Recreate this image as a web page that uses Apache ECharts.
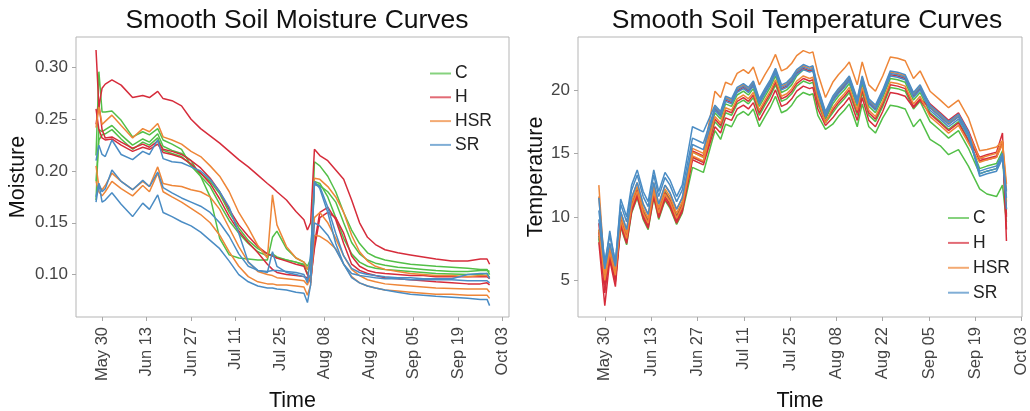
<!DOCTYPE html>
<html><head><meta charset="utf-8">
<script src="https://cdn.jsdelivr.net/npm/echarts@6/dist/echarts.min.js"></script>
<style>html,body{margin:0;padding:0;background:#fff}#c{width:1030px;height:411px}</style>
</head><body><div id="c"></div>
<script>
// ---- axis ticks (days counted from May 30) ----
const tickDays = [0,14,28,42,56,70,84,98,112,126];
const tickLabels = ['May 30','Jun 13','Jun 27','Jul 11','Jul 25','Aug 08','Aug 22','Sep 05','Sep 19','Oct 03'];
const moistureTicks = [0.10,0.15,0.20,0.25,0.30];
const tempTicks = [5,10,15,20];
const treatments = ['C','H','HSR','SR'];

// ---- soil moisture (days since May 30) ----
const mDays = [-1.9,-1.0,0,1,3.1,6,9.6,12.8,14.9,17.5,19.2,22, 25,28,31,34,37,40,43,46,49,52,53.6,55, 58,61,63.5,64.6,65.6,66.8,68.5,71,73.5,76,78.5,81, 83.5,86,89,93,97,101,105,110,115,119,121.1,121.9];
const mC1 = [0.215,0.296,0.257,0.257,0.258,0.249,0.233,0.238,0.235,0.241,0.230,0.226, 0.221,0.205,0.195,0.185,0.168,0.152,0.140,0.130,0.122,0.118,0.120,0.117, 0.114,0.112,0.110,0.105,0.110,0.209,0.205,0.195,0.180,0.160,0.143,0.130, 0.121,0.117,0.114,0.112,0.110,0.109,0.108,0.107,0.106,0.105,0.105,0.100];
const mC2 = [0.172,0.240,0.238,0.240,0.244,0.235,0.225,0.231,0.228,0.236,0.224,0.220, 0.217,0.210,0.195,0.175,0.135,0.119,0.116,0.115,0.114,0.114,0.136,0.142, 0.125,0.116,0.112,0.108,0.115,0.190,0.188,0.175,0.155,0.135,0.120,0.112, 0.108,0.106,0.105,0.104,0.103,0.102,0.101,0.1005,0.100,0.100,0.101,0.097];
const mC3 = [0.190,0.230,0.235,0.236,0.240,0.231,0.221,0.228,0.225,0.232,0.220,0.217, 0.214,0.206,0.198,0.190,0.178,0.160,0.145,0.133,0.125,0.120,0.118,0.116, 0.114,0.112,0.109,0.100,0.110,0.188,0.186,0.180,0.170,0.150,0.131,0.120, 0.114,0.111,0.109,0.107,0.106,0.105,0.104,0.103,0.103,0.104,0.104,0.103];
const mH1 = [0.317,0.262,0.280,0.284,0.288,0.283,0.271,0.273,0.271,0.277,0.270,0.268, 0.263,0.250,0.241,0.234,0.227,0.219,0.211,0.204,0.196,0.188,0.184,0.180, 0.172,0.161,0.153,0.143,0.150,0.221,0.215,0.210,0.201,0.192,0.172,0.150, 0.136,0.129,0.124,0.121,0.119,0.117,0.115,0.113,0.113,0.115,0.115,0.110];
const mH2 = [0.245,0.265,0.240,0.232,0.233,0.228,0.222,0.226,0.223,0.229,0.221,0.219, 0.216,0.210,0.203,0.193,0.180,0.163,0.148,0.137,0.127,0.120,0.118,0.116, 0.113,0.110,0.108,0.100,0.092,0.130,0.160,0.165,0.153,0.130,0.110,0.104, 0.101,0.099,0.097,0.096,0.095,0.094,0.093,0.092,0.091,0.091,0.092,0.090];
const mH3 = [0.260,0.240,0.232,0.230,0.231,0.225,0.219,0.223,0.221,0.226,0.218,0.216, 0.213,0.207,0.198,0.188,0.173,0.156,0.142,0.131,0.121,0.110,0.105,0.102, 0.100,0.099,0.098,0.097,0.095,0.125,0.155,0.160,0.155,0.140,0.118,0.108, 0.104,0.102,0.101,0.100,0.099,0.099,0.098,0.098,0.098,0.098,0.098,0.096];
const mHSR1 = [0.242,0.262,0.245,0.248,0.254,0.244,0.232,0.241,0.238,0.246,0.233,0.230, 0.226,0.219,0.214,0.205,0.195,0.180,0.160,0.145,0.128,0.116,0.177,0.148, 0.127,0.116,0.112,0.105,0.112,0.193,0.192,0.185,0.175,0.160,0.138,0.122, 0.113,0.108,0.105,0.103,0.101,0.100,0.099,0.099,0.098,0.099,0.099,0.097];
const mHSR2 = [0.205,0.185,0.182,0.186,0.198,0.190,0.182,0.190,0.185,0.204,0.188,0.186, 0.185,0.182,0.180,0.175,0.163,0.145,0.127,0.112,0.103,0.100,0.099,0.097, 0.096,0.095,0.094,0.090,0.100,0.155,0.160,0.150,0.135,0.118,0.105,0.099, 0.095,0.093,0.091,0.090,0.089,0.088,0.087,0.0865,0.086,0.086,0.086,0.083];
const mHSR3 = [0.190,0.180,0.176,0.180,0.190,0.183,0.176,0.186,0.180,0.198,0.180,0.175, 0.170,0.164,0.158,0.150,0.138,0.122,0.108,0.098,0.093,0.091,0.091,0.090, 0.090,0.089,0.088,0.080,0.090,0.138,0.137,0.132,0.125,0.110,0.098,0.092, 0.089,0.087,0.085,0.084,0.083,0.082,0.081,0.081,0.080,0.080,0.080,0.077];
const mSR1 = [0.210,0.225,0.216,0.214,0.230,0.216,0.211,0.219,0.216,0.230,0.212,0.209, 0.208,0.204,0.200,0.192,0.180,0.165,0.140,0.112,0.104,0.103,0.104,0.104, 0.103,0.102,0.100,0.092,0.120,0.187,0.185,0.165,0.140,0.118,0.106,0.102, 0.100,0.099,0.098,0.097,0.097,0.096,0.096,0.096,0.100,0.101,0.101,0.096];
const mSR2 = [0.170,0.188,0.180,0.183,0.201,0.190,0.182,0.191,0.185,0.199,0.184,0.179, 0.174,0.170,0.166,0.160,0.150,0.137,0.120,0.108,0.104,0.102,0.122,0.108, 0.102,0.100,0.098,0.095,0.100,0.190,0.183,0.160,0.130,0.110,0.101,0.099, 0.098,0.097,0.096,0.096,0.095,0.095,0.095,0.095,0.094,0.094,0.094,0.092];
const mSR3 = [0.175,0.188,0.170,0.172,0.179,0.168,0.156,0.169,0.163,0.177,0.160,0.156, 0.151,0.147,0.141,0.133,0.125,0.113,0.100,0.093,0.089,0.087,0.087,0.086, 0.085,0.083,0.082,0.073,0.090,0.150,0.147,0.138,0.124,0.110,0.097,0.092, 0.089,0.087,0.085,0.083,0.081,0.080,0.079,0.078,0.077,0.076,0.076,0.070];

// ---- soil temperature (days since May 30) ----
const tDays = [-1.8,0,1.5,3.2,4.8,6.6,8.1,9.8,11.6,13.1,14.8,16.3,18.2,19.7,21.7,23.4, 26.5,29.8, 33.3,35,36.5,38.3,40,41.9,43.4,44.9,46.7,48.4,50,51.6,53.4,55,56.5,58,60,61.9,62.9,64.4,66.7,68.9,70.6,72.4,73.9,76.3,77.8,79.8,81.8,84,86.3,88.5,90.8,93.3,95.3,98.3,101.4,103.9,106.9,109.9, 113.3,115.5,118.4,120.2, 121.4];
const tC1 = [8.3,4.6,6.7,5.0,9.2,7.8,10.3,11.5,9.8,9.0,11.5,9.8,11.3,10.7,9.4,10.3, 13.9,13.5, 16.8,16.1,17.3,17.1,18.0,18.3,18.0,18.5,17.1,17.9,18.6,19.5,18.2,18.4,18.8,19.4,19.8,19.6,19.7,18.0,16.9,17.3,17.9,18.4,18.9,17.1,18.9,17.1,16.6,17.8,18.8,18.7,18.5,17.1,17.7,16.1,15.6,14.9,15.3,14.0, 12.2,11.8,11.6,12.5, 9.6];
const tC2 = [8.5,4.8,7.0,5.2,9.5,8.1,10.6,11.8,10.1,9.3,11.8,10.1,11.6,11.0,9.7,10.6, 14.7,14.3, 17.5,17.0,18.2,18.0,18.9,19.2,18.9,19.4,18.0,18.8,19.5,20.4,19.1,19.3,19.7,20.3,20.7,20.5,20.6,18.9,17.4,18.2,18.8,19.3,19.8,18.0,19.8,18.0,17.5,18.7,20.2,20.1,19.9,18.5,19.1,17.5,16.8,16.2,16.8,15.4, 13.4,13.6,13.8,14.8, 10.2];
const tC3 = [9.0,5.3,7.4,5.6,9.9,8.5,11.0,12.2,10.5,9.7,12.2,10.5,12.0,11.4,10.1,11.0, 15.1,14.7, 18.2,17.7,18.9,18.7,19.6,19.9,19.6,20.1,18.7,19.5,20.2,21.1,19.8,20.0,20.4,21.1,21.6,21.5,21.6,19.6,17.7,18.9,19.5,20.0,20.5,18.7,20.5,18.7,18.2,19.4,20.9,20.8,20.6,19.2,19.8,18.2,17.5,16.9,17.5,16.1, 13.8,14.0,14.2,15.2, 10.6];
const tH1 = [8.0,3.0,6.6,4.5,9.3,7.9,10.4,11.6,9.9,9.1,11.6,9.9,11.4,10.8,9.5,10.4, 14.5,14.1, 17.1,16.6,17.8,17.6,18.5,18.8,18.5,19.0,17.6,18.4,19.1,20.0,18.7,18.9,19.3,19.9,20.3,20.1,20.2,18.5,17.2,17.8,18.4,18.9,19.4,17.6,19.4,17.6,17.1,18.3,19.8,19.7,19.5,18.6,19.2,18.1,17.4,16.8,17.4,16.0, 14.7,14.9,15.1,16.6, 8.1];
const tH2 = [8.8,4.0,7.0,4.9,9.5,8.1,10.6,11.8,10.1,9.3,11.8,10.1,11.6,11.0,9.7,10.6, 14.7,14.3, 17.7,17.2,18.4,18.2,19.1,19.4,19.1,19.6,18.2,19.0,19.7,20.6,19.3,19.5,19.9,20.5,20.9,20.7,20.8,19.1,17.5,18.4,19.0,19.5,20.0,18.2,20.0,18.2,17.7,18.9,20.4,20.3,20.1,18.7,19.3,18.6,17.9,17.3,17.9,16.5, 14.4,14.6,14.8,15.9, 9.0];
const tH3 = [9.5,4.6,7.3,5.3,9.8,8.4,10.9,12.1,10.4,9.6,12.1,10.4,11.9,11.3,10.0,10.9, 15.2,14.8, 18.5,18.0,19.2,19.0,19.9,20.2,19.9,20.4,19.0,19.8,20.5,21.4,20.1,20.3,20.7,21.3,21.7,21.5,21.6,19.9,17.9,19.2,19.8,20.3,20.8,19.0,20.8,19.0,18.5,19.7,21.2,21.1,20.9,19.5,20.1,18.9,18.2,17.6,18.2,16.8, 14.6,14.5,14.7,15.9, 10.0];
const tHSR1 = [12.5,5.5,7.9,5.9,10.4,9.0,11.5,12.7,11.0,10.2,12.7,11.0,12.5,11.9,10.6,11.5, 15.4,15.0, 19.9,19.4,20.6,20.4,21.3,21.6,21.3,21.8,20.4,21.2,21.9,22.8,21.5,21.7,22.1,22.7,23.1,22.9,23.0,21.3,19.4,20.6,21.2,21.7,22.2,20.4,22.2,20.4,19.9,21.1,22.6,22.5,22.3,20.9,21.5,19.9,19.2,18.6,19.2,17.8, 15.2,15.3,15.5,16.0, 12.6];
const tHSR2 = [11.6,5.5,7.6,5.8,10.1,8.7,11.2,12.4,10.7,9.9,12.4,10.7,12.2,11.6,10.3,11.2, 15.1,14.7, 18.7,18.2,19.4,19.2,20.1,20.4,20.1,20.6,19.2,20.0,20.7,21.6,20.3,20.5,20.9,21.5,21.9,21.7,21.8,20.1,18.2,19.4,20.0,20.5,21.0,19.2,21.0,19.2,18.7,19.9,21.4,21.3,21.1,19.7,20.3,18.7,18.0,17.4,18.0,16.6, 14.6,14.8,15.0,16.0, 12.1];
const tHSR3 = [9.0,5.0,7.2,5.4,9.7,8.3,10.8,12.0,10.3,9.5,12.0,10.3,11.8,11.2,9.9,10.8, 14.8,14.4, 17.9,17.4,18.6,18.4,19.3,19.6,19.3,19.8,18.4,19.2,19.9,20.8,19.5,19.7,20.1,20.7,21.1,20.9,21.0,19.3,17.4,18.6,19.2,19.7,20.2,18.4,20.2,18.4,17.9,19.1,20.6,20.5,20.3,18.9,19.5,17.9,17.2,16.6,17.2,15.8, 14.3,14.5,14.7,15.7, 11.2];
const tSR1 = [11.5,6.1,8.9,6.3,11.4,10.0,12.5,13.7,12.0,11.2,13.7,12.0,13.5,12.9,11.6,12.5, 17.1,16.7, 18.8,18.3,19.5,19.3,20.2,20.5,20.2,20.7,19.3,20.1,20.8,21.7,20.4,20.6,21.0,21.6,22.0,21.8,21.9,20.2,18.3,19.5,20.1,20.6,21.1,19.3,21.1,19.3,18.8,20.0,21.5,21.4,21.2,19.8,20.4,18.8,18.1,17.5,18.1,16.7, 13.4,13.6,13.8,14.8, 11.5];
const tSR2 = [10.5,6.5,8.5,6.5,11.0,9.6,12.1,13.3,11.6,10.8,13.3,11.6,13.1,12.5,11.2,12.1, 16.2,15.8, 18.6,18.1,19.3,19.1,20.0,20.3,20.0,20.5,19.1,19.9,20.6,21.5,20.2,20.4,20.8,21.4,21.8,21.6,21.7,20.0,18.1,19.3,19.9,20.4,20.9,19.1,20.9,19.1,18.6,19.8,21.3,21.2,21.0,19.6,20.2,18.6,17.9,17.3,17.9,16.5, 13.2,13.4,13.6,14.6, 12.0];
const tSR3 = [9.8,5.9,7.9,6.1,10.4,9.0,11.5,12.7,11.0,10.2,12.7,11.0,12.5,11.9,10.6,11.5, 15.7,15.3, 18.4,17.9,19.1,18.9,19.8,20.1,19.8,20.3,18.9,19.7,20.4,21.3,20.0,20.2,20.6,21.2,21.6,21.4,21.5,19.8,17.9,19.1,19.7,20.2,20.7,18.9,20.7,18.9,18.4,19.6,21.1,21.0,20.8,19.4,20.0,18.4,17.7,17.1,17.7,16.3, 13.6,13.8,14.0,15.0, 10.6];

const colors = {C:'#52bf47', H:'#d62c3b', HSR:'#ee8638', SR:'#4a8cc4'};
const FONT = "'Liberation Sans', Arial, Helvetica, sans-serif";

const moistureLines = [['C',mC1],['C',mC2],['C',mC3],['H',mH1],['H',mH2],['H',mH3],['HSR',mHSR1],['HSR',mHSR2],['HSR',mHSR3],['SR',mSR1],['SR',mSR2],['SR',mSR3]];
const tempLines = [['C',tC1],['C',tC2],['C',tC3],['H',tH1],['H',tH2],['H',tH3],['HSR',tHSR1],['HSR',tHSR2],['HSR',tHSR3],['SR',tSR1],['SR',tSR2],['SR',tSR3]];

function mkSeries(lines, days, idx){
  return lines.map(([name, vals]) => ({
    type:'line', name, xAxisIndex:idx, yAxisIndex:idx, showSymbol:false, symbol:'none',
    lineStyle:{width:1.5, color:colors[name]}, itemStyle:{color:colors[name]},
    data: days.map((d,i)=>[d, vals[i]]), animation:false, silent:true
  }));
}
function xAx(idx, min, max){
  return {type:'value', gridIndex:idx, min, max,
    axisLine:{show:false, onZero:false}, splitLine:{show:false},
    axisTick:{show:true, customValues:tickDays, length:4, lineStyle:{color:'#a8a8a8'}},
    axisLabel:{customValues:tickDays, rotate:90, margin:10, fontSize:16.5, color:'#444', fontFamily:FONT,
      formatter:(v)=>tickLabels[tickDays.indexOf(Math.round(v))]},
    name:'Time', nameLocation:'middle', nameGap:73,
    nameTextStyle:{fontSize:21.5, color:'#111', fontFamily:FONT}};
}
function yAx(idx, min, max, ticks, fmt, name, gap){
  return {type:'value', gridIndex:idx, min, max,
    axisLine:{show:false, onZero:false}, splitLine:{show:false},
    axisTick:{show:true, customValues:ticks, length:4, lineStyle:{color:'#a8a8a8'}},
    axisLabel:{customValues:ticks, margin:8, fontSize:17, color:'#444', fontFamily:FONT, formatter:fmt},
    name, nameLocation:'middle', nameGap:gap,
    nameTextStyle:{fontSize:21.5, color:'#111', fontFamily:FONT}};
}
function legend(left, top, gap){
  return {data:treatments, orient:'vertical', left, top, icon:'rect', itemWidth:21, itemHeight:2, itemGap:gap,
    textStyle:{fontSize:17.5, color:'#222', fontFamily:FONT, lineHeight:17.5, padding:[0,0,0,-1]},
    itemStyle:{opacity:0.7}, selectedMode:false, padding:0};
}

const chart = echarts.init(document.getElementById('c'), null, {renderer:'canvas'});
chart.setOption({
  animation:false,
  backgroundColor:'#fff',
  title:[
    {text:'Smooth Soil Moisture Curves', left:292, top:2, textAlign:'center', textStyle:{fontSize:26.5, fontWeight:'normal', color:'#111', fontFamily:FONT}},
    {text:'Smooth Soil Temperature Curves', left:802, top:2, textAlign:'center', textStyle:{fontSize:26.5, fontWeight:'normal', color:'#111', fontFamily:FONT}}
  ],
  legend:[legend(430, 64.5, 5.8), legend(948, 209, 6.9)],
  grid:[
    {left:76, top:37, width:433, height:280, show:true, borderColor:'#b5b5b5', borderWidth:1, backgroundColor:'transparent', containLabel:false, outerBoundsMode:'none'},
    {left:578, top:37, width:444, height:280, show:true, borderColor:'#b5b5b5', borderWidth:1, backgroundColor:'transparent', containLabel:false, outerBoundsMode:'none'}
  ],
  xAxis:[xAx(0,-8.2,128.0), xAx(1,-8.1,126.1)],
  yAxis:[
    yAx(0, 0.059, 0.3295, moistureTicks, v=>v.toFixed(2), 'Moisture', 47),
    yAx(1, 2.11, 24.17, tempTicks, v=>String(Math.round(v)), 'Temperature', 30)
  ],
  series:[...mkSeries(moistureLines, mDays, 0), ...mkSeries(tempLines, tDays, 1)]
});
</script></body></html>
